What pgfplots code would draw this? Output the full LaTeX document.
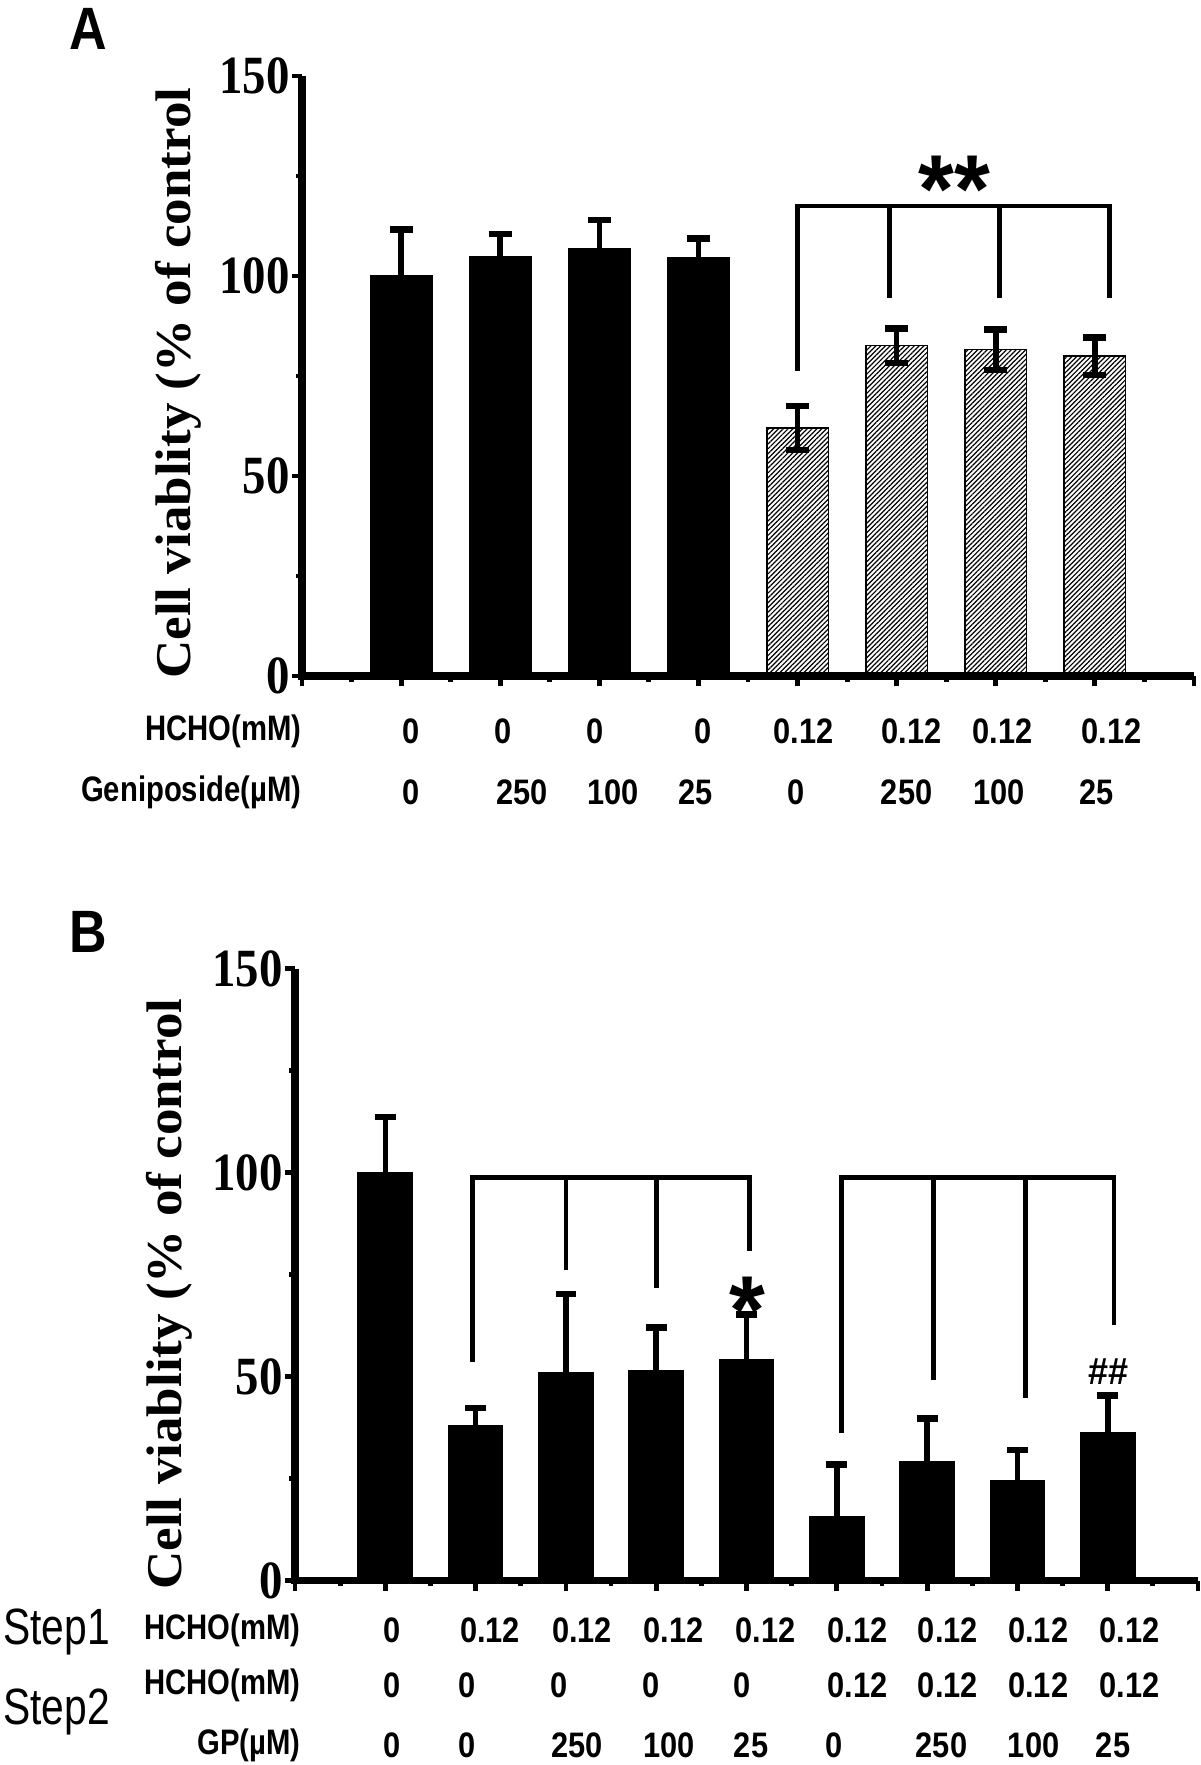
\documentclass[border=0pt]{standalone}
\usepackage{fontspec}
\setmainfont{Liberation Serif}
\newfontfamily\arialfont{Liberation Sans}
\usepackage{pgfplots}
\pgfplotsset{compat=1.18}
\usetikzlibrary{patterns.meta}
\newcommand\tkl[1]{\scalebox{1}[1.15]{\fontsize{11.7}{12}\selectfont\bfseries #1}}
\newcommand\lab[1]{\scalebox{1}[1.15]{\fontsize{7.7}{8}\arialfont\bfseries #1}}
\newcommand\rlab[1]{\scalebox{0.95}[1.15]{\fontsize{7.7}{8}\arialfont\bfseries #1}}
\newcommand\steplab[1]{\scalebox{1}[1.25]{\fontsize{10.2}{11}\arialfont #1}}
\newcommand\ylab{\scalebox{1.06}[1]{\fontsize{12.5}{13}\selectfont\bfseries Cell viablity (\% of control}}
\newcommand\rowvals[2]{%
  \foreach \x/\t in {#2}{%
    \edef\tmp{\noexpand\node[inner sep=0pt] at (axis cs:\x,#1) {\noexpand\lab{\t}};}\tmp}}
\pgfplotsset{
  common/.style={
    scale only axis,
    axis x line=bottom, axis y line=left,
    tick align=outside,
    major tick length=2.6pt, minor tick length=1.4pt,
    tick style={black,line width=1.2pt},
    ymin=0, ymax=150,
    ytick={0,50,100,150},
    yticklabels={\tkl{0},\tkl{50},\tkl{100},\tkl{150}},
    minor ytick={25,75,125},
    yticklabel style={inner sep=0pt, xshift=-0.3pt},
    xticklabels={},
    clip=false,
  },
  myerr/.style={error bars/.cd, y dir=both, y explicit,
    error bar style={line width=1.4pt,black},
    error mark options={rotate=90,line width=1.65pt,black,mark size=#1}},
}
\begin{document}
\begin{tikzpicture}
\useasboundingbox (0,0) rectangle (300pt,-441.25pt);
% Panel labels and y labels
\node[font=\fontsize{13}{14}\arialfont\bfseries] at (22pt,-7.25pt) {\scalebox{1}[1.15]{A}};
\node[font=\fontsize{13}{14}\arialfont\bfseries] at (22pt,-233pt) {\scalebox{1}[1.15]{B}};
\node[rotate=90] at (44.5pt,-95.8pt) {\ylab};
\node[rotate=90] at (42.3pt,-323.5pt) {\ylab};
% ---------------- Panel A
\begin{axis}[common,
  at={(75.5pt,-169pt)}, anchor=south west,
  width=223pt, height=150pt,
  xmin=0, xmax=9,
  xtick={0,...,9}, minor xtick={0.5,1.5,...,8.5},
  axis line style={line width=1.8pt,-},
]
\addplot[ybar, bar width=15.4pt, bar shift=0pt, fill=black, draw=black, myerr=2.85pt]
  coordinates {(1,100) +- (0,11.6) (2,104.8) +- (0,5.7) (3,106.7) +- (0,7.3) (4,104.6) +- (0,4.8)};
\addplot[ybar, bar width=15.4pt, bar shift=0pt, draw=black, line width=0.4pt,
  pattern={Lines[angle=45,distance=0.85pt,line width=0.3pt]}, myerr=2.85pt]
  coordinates {(5,62) +- (0,5.5) (6,82.6) +- (0,4.3) (7,81.6) +- (0,5.1) (8,80.0) +- (0,4.7)};
\draw[line width=1.8pt] (axis cs:0,150) -- (axis cs:0,0) -- (axis cs:9,0);
% bracket
\draw[line width=1.2pt] (axis cs:5.0,76.2) -- (axis cs:5.0,117.5) -- (axis cs:8.15,117.5) -- (axis cs:8.15,94.6);
\draw[line width=1.2pt] (axis cs:5.93,117.5) -- (axis cs:5.93,94.6);
\draw[line width=1.2pt] (axis cs:7.04,117.5) -- (axis cs:7.04,94.6);
\node[anchor=base, font=\fontsize{23}{23}\arialfont\bfseries] at (axis cs:6.58,113.3) {\scalebox{1}[1.05]{**}};
% row labels
\node[anchor=east, inner sep=0pt] at (axis cs:0,-13.8) {\rlab{HCHO(mM)}};
\node[anchor=east, inner sep=0pt] at (axis cs:0,-29.0) {\rlab{Geniposide(µM)}};
\rowvals{-13.8}{1.10/0,2.03/0,2.96/0,4.05/0,5.06/0.12,6.15/0.12,7.07/0.12,8.17/0.12}
\rowvals{-29.0}{1.10/0,2.22/250,3.14/100,3.97/25,4.99/0,6.10/250,7.03/100,8.02/25}
\end{axis}
% ---------------- Panel B
\begin{axis}[common,
  at={(73.75pt,-395.125pt)}, anchor=south west,
  width=225.75pt, height=153pt,
  xmin=0, xmax=10,
  xtick={0,...,10}, minor xtick={0.5,1.5,...,9.5},
  axis line style={line width=1.8pt,-},
]
\addplot[ybar, bar width=13.5pt, bar shift=0pt, fill=black, draw=black, myerr=2.6pt]
  coordinates {(1,100) +- (0,13.6) (2,37.9) +- (0,4.4) (3,50.8) +- (0,19.4) (4,51.4) +- (0,10.6) (5,54.1) +- (0,11.1)
               (6,15.5) +- (0,12.9) (7,29.2) +- (0,10.5) (8,24.4) +- (0,7.6) (9,36.1) +- (0,9.3)};
\draw[line width=1.8pt] (axis cs:0,150) -- (axis cs:0,0) -- (axis cs:10,0);
% brackets
\draw[line width=1.2pt] (axis cs:1.97,53.6) -- (axis cs:1.97,98.8) -- (axis cs:5.03,98.8) -- (axis cs:5.03,80.7);
\draw[line width=1.2pt] (axis cs:3.0,98.8) -- (axis cs:3.0,76.2);
\draw[line width=1.2pt] (axis cs:4.0,98.8) -- (axis cs:4.0,71.8);
\draw[line width=1.2pt] (axis cs:6.05,36.1) -- (axis cs:6.05,98.7) -- (axis cs:9.07,98.7) -- (axis cs:9.07,62.6);
\draw[line width=1.2pt] (axis cs:7.07,98.7) -- (axis cs:7.07,49.2);
\draw[line width=1.2pt] (axis cs:8.09,98.7) -- (axis cs:8.09,44.8);
\node[anchor=base, font=\fontsize{23}{23}\arialfont\bfseries] at (axis cs:5.01,58.0) {\scalebox{1}[1.05]{*}};
\node[font=\fontsize{9}{9}\arialfont\bfseries] at (axis cs:9.01,51.3) {\scalebox{1}[1.05]{\#\#}};
% row labels
\node[anchor=west, inner sep=0pt] at (axis cs:-3.24,-12.7) {\steplab{Step1}};
\node[anchor=west, inner sep=0pt] at (axis cs:-3.24,-32.3) {\steplab{Step2}};
\node[anchor=east, inner sep=0pt] at (axis cs:0.07,-12.1) {\rlab{HCHO(mM)}};
\node[anchor=east, inner sep=0pt] at (axis cs:0.07,-25.6) {\rlab{HCHO(mM)}};
\node[anchor=east, inner sep=0pt] at (axis cs:0.07,-40.3) {\rlab{GP(µM)}};
\rowvals{-12.1}{1.08/0,2.16/0.12,3.18/0.12,4.19/0.12,5.21/0.12,6.23/0.12,7.23/0.12,8.23/0.12,9.24/0.12}
\rowvals{-25.6}{1.08/0,1.91/0,2.92/0,3.94/0,4.95/0,6.23/0.12,7.23/0.12,8.23/0.12,9.24/0.12}
\rowvals{-40.3}{1.08/0,1.91/0,3.12/250,4.14/100,5.05/25,5.97/0,7.16/250,8.18/100,9.06/25}
\end{axis}
\end{tikzpicture}
\end{document}
